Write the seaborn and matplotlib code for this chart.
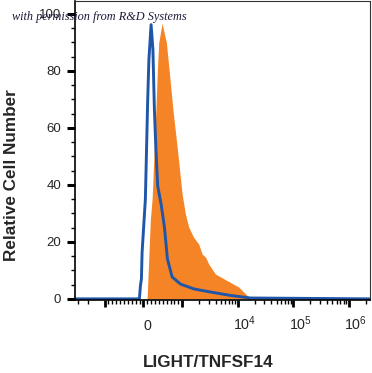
import numpy as np
import pandas as pd
import matplotlib
matplotlib.use('Agg')
import matplotlib.pyplot as plt
import matplotlib.transforms as mtransforms
from matplotlib.ticker import MultipleLocator
import seaborn as sns

# stained sample (filled orange histogram)
stained_x = [95, 180, 224, 322, 353, 394, 481, 592, 677, 759, 875, 996, 1140, 1306,
             1589, 1977, 2280, 2612, 2998, 3954, 6427, 10280, 14730, 16900]
stained_y = [0, 28, 35, 66.4, 78.1, 89.8, 96.7, 89.8, 78.1, 66.4, 52.4, 36.7, 29.7, 25.2,
             21.7, 19.2, 15.7, 14.7, 12.2, 8.7, 6.4, 4.2, 1.2, 0]

# isotype control (blue line)
control_x = [-3400, -103, -77, -51, -33, 51, 111, 142, 198, 245, 283, 322, 368, 456,
             541, 618, 739, 952, 1607, 3214, 7379, 16900, 2400000]
control_y = [0, 0, 4.5, 7, 16.4, 35, 70, 84, 96.2, 87.4, 66.4, 52.4, 39.6, 33.2,
             25.2, 14, 7.7, 5.2, 3.5, 2.4, 1.2, 0.3, 0]

x_major = [-1000, 0, 1000, 1e4, 1e5, 1e6]
x_labels = ['', '0', '', '$10^4$', '$10^5$', '$10^6$']
y_major = [0, 20, 40, 60, 80, 100]

orange = '#F58426'
blue = '#1F56A8'

sns.set_style('ticks')
plt.rcParams['font.family'] = ['Liberation Sans', 'DejaVu Sans']
plt.rcParams['mathtext.default'] = 'regular'

control = pd.DataFrame({'intensity': control_x, 'count': control_y})

fig = plt.figure(figsize=(3.72, 3.73), dpi=100)
ax = fig.add_axes([75 / 372, 73 / 373, 295 / 372, 299 / 373])
ax.set_xscale('symlog', linthresh=1000, linscale=0.63)

ax.fill_between(stained_x, stained_y, color=orange, lw=0)
sns.lineplot(data=control, x='intensity', y='count', sort=False, estimator=None,
             color=blue, lw=2.1, ax=ax)

minor = [-s * 100 for s in range(1, 10)] + [s * 100 for s in range(1, 10)]
minor += [-s * 1000 for s in range(2, 4)]
for dec in [1e3, 1e4, 1e5]:
    minor += [s * dec for s in range(2, 10)]
minor += [2e6]
ax.set_xticks(x_major)
ax.set_xticklabels(x_labels)
ax.set_xticks(minor, minor=True)
ax.set_yticks(y_major)
ax.yaxis.set_minor_locator(MultipleLocator(5))

ax.set_xlim(-3400, 2.4e6)
ax.set_ylim(-0.4, 104.5)

ax.tick_params(axis='x', which='major', length=5, width=2, pad=16.6, labelsize=10.3, color='black')
ax.tick_params(axis='x', which='minor', length=3, width=1, color='black')
ax.tick_params(axis='y', which='major', length=6, width=2.2, pad=4, labelsize=9.5, color='black')
ax.tick_params(axis='y', which='minor', length=3, width=1, color='black')

for lbl, txt in zip(ax.get_xticklabels(), x_labels):
    lbl.set_va('baseline')
    dx = 4 if txt == '0' else 7
    lbl.set_transform(lbl.get_transform() +
                      mtransforms.ScaledTranslation(dx / 100, 0, fig.dpi_scale_trans))

for side in ['left', 'bottom']:
    ax.spines[side].set_linewidth(1.2)
    ax.spines[side].set_color('black')
for side in ['top', 'right']:
    ax.spines[side].set_linewidth(0.8)
    ax.spines[side].set_color('#333333')

ax.set_xlabel('LIGHT/TNFSF14', fontsize=12.3, fontweight='bold')
ax.xaxis.set_label_coords(0.453, -0.183)
ax.set_ylabel('Relative Cell Number', fontsize=12.3, fontweight='bold')
ax.yaxis.set_label_coords(-0.19, 0.417)

fig.text(0.031, 0.946, 'with permission from R&D Systems', family='Liberation Serif',
         style='italic', fontsize=8.8, color='#1b1b3a', va='baseline')

fig.savefig('out.png', dpi=100)
